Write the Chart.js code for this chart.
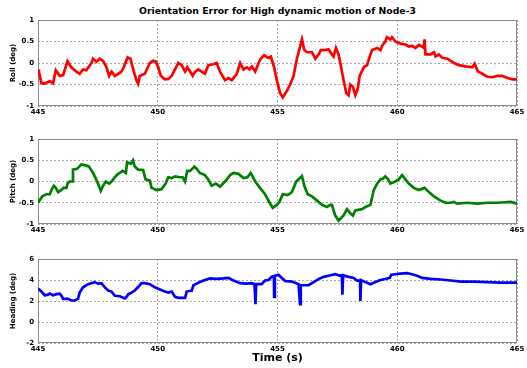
<!DOCTYPE html>
<html>
<head>
<meta charset="utf-8">
<script src="https://cdn.jsdelivr.net/npm/chart.js@4.4.1/dist/chart.umd.min.js"></script>
<style>
  body { margin: 0; background: #fff; }
  #wrap { position: relative; width: 527px; height: 368px; overflow: hidden; font-family: 'DejaVu Sans', sans-serif; }
  canvas { position: absolute; left: 0; }
  #title { position: absolute; top: 5px; left: 38px; width: 479px; text-align: center; font-weight: bold; font-size: 9.3px; color: #000; }
  #xlabel { position: absolute; top: 351px; left: 38px; width: 479px; text-align: center; font-weight: bold; font-size: 11px; color: #000; }
</style>
</head>
<body>
<div id="wrap">
  <div id="title">Orientation Error for High dynamic motion of Node-3</div>
  <canvas id="roll" width="527" height="120" style="top:0px"></canvas>
  <canvas id="pitch" width="527" height="120" style="top:120px"></canvas>
  <canvas id="heading" width="527" height="128" style="top:240px"></canvas>
  <div id="xlabel">Time (s)</div>
</div>
<script>
// roll error (deg) vs time (s)
const rollTime = [445.00, 445.04, 445.14, 445.28, 445.49, 445.63, 445.74, 445.91, 446.05, 446.23, 446.39, 446.60, 446.74, 446.88, 447.02, 447.23, 447.30, 447.44, 447.58, 447.72, 447.86, 447.97, 448.07, 448.21, 448.35, 448.49, 448.58, 448.74, 448.86, 449.00, 449.11, 449.18, 449.25, 449.46, 449.67, 449.81, 449.92, 450.02, 450.13, 450.30, 450.44, 450.58, 450.72, 450.86, 451.00, 451.14, 451.23, 451.35, 451.46, 451.56, 451.69, 451.83, 451.97, 452.11, 452.32, 452.46, 452.60, 452.81, 452.95, 453.09, 453.30, 453.44, 453.58, 453.72, 453.83, 453.93, 454.07, 454.21, 454.30, 454.44, 454.62, 454.72, 454.86, 454.97, 455.11, 455.22, 455.39, 455.53, 455.67, 455.81, 455.95, 456.02, 456.12, 456.23, 456.44, 456.58, 456.72, 456.81, 456.99, 457.13, 457.27, 457.34, 457.44, 457.55, 457.62, 457.76, 457.87, 457.97, 458.04, 458.15, 458.25, 458.35, 458.43, 458.60, 458.74, 458.85, 458.95, 459.16, 459.30, 459.37, 459.50, 459.57, 459.71, 459.78, 459.92, 460.13, 460.34, 460.48, 460.62, 460.76, 460.90, 461.04, 461.11, 461.14, 461.18, 461.39, 461.53, 461.60, 461.74, 461.88, 462.09, 462.23, 462.37, 462.57, 462.85, 463.13, 463.23, 463.37, 463.55, 463.76, 463.97, 464.18, 464.39, 464.60, 464.81, 465.00];
const rollDeg = [-0.15, -0.2, -0.47, -0.48, -0.42, -0.47, -0.17, -0.3, -0.28, 0.04, -0.1, -0.2, -0.25, -0.15, -0.17, 0.0, 0.1, 0.03, 0.1, 0.05, -0.1, -0.3, -0.2, -0.3, -0.25, -0.2, -0.1, 0.13, 0.1, -0.2, -0.4, -0.48, -0.3, -0.25, 0.0, 0.05, 0.03, -0.1, -0.3, -0.38, -0.37, -0.3, -0.15, 0.0, -0.05, -0.2, -0.1, -0.2, -0.3, -0.2, -0.15, -0.2, -0.25, -0.05, -0.03, 0.0, -0.2, -0.4, -0.35, -0.4, -0.25, 0.0, -0.15, -0.1, -0.15, -0.08, -0.2, 0.0, 0.1, 0.18, 0.12, 0.15, -0.1, -0.4, -0.7, -0.8, -0.65, -0.5, -0.3, 0.1, 0.4, 0.55, 0.3, 0.25, 0.25, 0.1, 0.2, 0.3, 0.3, 0.32, 0.2, 0.15, 0.35, 0.2, 0.0, -0.4, -0.7, -0.75, -0.5, -0.55, -0.75, -0.6, -0.3, -0.1, -0.05, 0.15, 0.3, 0.35, 0.3, 0.4, 0.5, 0.6, 0.55, 0.6, 0.5, 0.45, 0.43, 0.38, 0.4, 0.35, 0.42, 0.38, 0.35, 0.55, 0.2, 0.2, 0.25, 0.15, 0.2, 0.12, 0.1, 0.05, 0.0, -0.05, -0.08, -0.1, -0.02, -0.2, -0.25, -0.32, -0.33, -0.3, -0.3, -0.35, -0.38, -0.38];

// pitch error (deg) vs time (s)
const pitchTime = [445.00, 445.18, 445.35, 445.49, 445.56, 445.66, 445.74, 445.84, 445.98, 446.07, 446.19, 446.23, 446.32, 446.42, 446.46, 446.63, 446.72, 446.81, 446.99, 447.13, 447.30, 447.47, 447.62, 447.72, 447.83, 447.97, 448.07, 448.28, 448.53, 448.67, 448.72, 448.88, 448.97, 449.04, 449.18, 449.39, 449.49, 449.67, 449.74, 449.95, 450.16, 450.33, 450.44, 450.58, 450.72, 450.93, 451.04, 451.14, 451.23, 451.35, 451.53, 451.62, 451.76, 451.97, 452.11, 452.25, 452.43, 452.60, 452.81, 453.02, 453.16, 453.37, 453.58, 453.74, 453.88, 454.07, 454.27, 454.48, 454.67, 454.80, 454.97, 455.08, 455.22, 455.42, 455.60, 455.78, 456.02, 456.12, 456.26, 456.44, 456.65, 456.86, 457.06, 457.20, 457.27, 457.41, 457.55, 457.76, 457.90, 458.04, 458.15, 458.25, 458.53, 458.67, 458.88, 459.02, 459.16, 459.30, 459.41, 459.50, 459.62, 459.71, 459.92, 460.06, 460.20, 460.34, 460.48, 460.69, 460.90, 461.14, 461.32, 461.53, 461.81, 462.02, 462.23, 462.37, 462.50, 462.92, 463.34, 463.76, 464.18, 464.74, 465.00];
const pitchDeg = [-0.5, -0.35, -0.3, -0.3, -0.2, -0.1, -0.15, -0.25, -0.2, -0.15, -0.15, -0.05, 0.0, 0.0, 0.28, 0.3, 0.35, 0.4, 0.38, 0.35, 0.2, 0.0, -0.22, -0.1, 0.0, -0.05, 0.0, 0.15, 0.25, 0.2, 0.45, 0.42, 0.5, 0.35, 0.28, 0.27, 0.05, 0.02, -0.15, -0.2, -0.18, -0.05, 0.1, 0.08, 0.12, 0.1, 0.1, 0.0, 0.25, 0.25, 0.35, 0.3, 0.2, 0.15, 0.05, -0.1, -0.05, -0.12, 0.0, 0.15, 0.2, 0.18, 0.08, 0.1, 0.2, 0.0, -0.15, -0.3, -0.5, -0.62, -0.55, -0.48, -0.3, -0.32, -0.25, 0.0, 0.13, -0.1, -0.3, -0.35, -0.45, -0.55, -0.6, -0.55, -0.55, -0.8, -0.92, -0.8, -0.65, -0.75, -0.8, -0.68, -0.65, -0.6, -0.55, -0.2, -0.05, 0.05, 0.07, 0.12, 0.05, -0.05, 0.0, 0.05, 0.15, 0.05, -0.05, -0.15, -0.2, -0.15, -0.25, -0.35, -0.45, -0.5, -0.5, -0.48, -0.52, -0.5, -0.52, -0.5, -0.5, -0.48, -0.52];

// heading error (deg) vs time (s)
const headingTime = [445.00, 445.14, 445.28, 445.42, 445.49, 445.63, 445.77, 445.91, 445.98, 446.05, 446.26, 446.39, 446.53, 446.67, 446.74, 446.88, 447.09, 447.37, 447.51, 447.65, 447.79, 447.93, 448.07, 448.21, 448.42, 448.63, 448.70, 448.77, 448.91, 449.04, 449.23, 449.32, 449.46, 449.67, 449.88, 450.09, 450.30, 450.44, 450.58, 450.72, 450.86, 451.14, 451.21, 451.42, 451.49, 451.76, 451.97, 452.18, 452.46, 452.74, 452.95, 453.16, 453.44, 453.72, 453.93, 454.04, 454.08, 454.11, 454.34, 454.48, 454.62, 454.76, 454.85, 454.86, 454.89, 455.04, 455.18, 455.32, 455.60, 455.88, 455.94, 455.97, 456.30, 456.51, 456.72, 456.93, 457.13, 457.41, 457.62, 457.69, 457.71, 457.74, 457.97, 458.18, 458.32, 458.45, 458.46, 458.49, 458.67, 458.88, 459.09, 459.30, 459.50, 459.69, 459.75, 459.92, 460.13, 460.41, 460.62, 460.83, 461.04, 461.39, 461.81, 462.23, 462.65, 463.20, 463.76, 464.32, 465.00];
const headingDeg = [3.2, 2.9, 2.55, 2.6, 2.7, 2.55, 2.65, 2.7, 2.5, 2.2, 2.2, 2.05, 2.05, 2.2, 2.8, 3.3, 3.6, 3.8, 3.65, 3.7, 3.3, 3.0, 2.9, 2.5, 2.45, 2.25, 2.4, 2.65, 2.8, 3.0, 3.45, 3.7, 3.7, 3.6, 3.3, 3.1, 2.9, 2.8, 2.9, 2.4, 2.3, 2.3, 2.9, 3.0, 3.5, 3.8, 4.0, 4.15, 4.1, 4.15, 4.2, 3.95, 3.7, 3.65, 3.7, 3.6, 1.7, 3.6, 3.6, 3.95, 4.0, 4.3, 4.35, 2.4, 4.4, 4.5, 4.2, 3.9, 3.85, 3.6, 1.7, 3.5, 3.5, 3.8, 4.1, 4.3, 4.4, 4.55, 4.4, 4.45, 2.6, 4.45, 4.3, 4.2, 3.95, 3.95, 2.0, 4.0, 3.8, 3.6, 3.8, 4.0, 4.1, 4.2, 4.5, 4.55, 4.6, 4.65, 4.55, 4.4, 4.2, 4.1, 4.05, 3.95, 3.85, 3.85, 3.8, 3.75, 3.75];

const xTicks = { min: 445, max: 465, step: 5 };

const tickFont = { family: 'DejaVu Sans', size: 7, weight: 'bold' };

// solid grey frame round the plot area
const framePlugin = {
  id: 'frame',
  beforeDatasetsDraw(chart) {
    const { ctx, chartArea: a } = chart;
    ctx.save();
    ctx.strokeStyle = '#8c8c8c';
    ctx.lineWidth = 1;
    ctx.strokeRect(a.left + 0.5, a.top + 0.5, a.right - a.left - 1, a.bottom - a.top - 1);
    ctx.restore();
  }
};

function makePanel(id, times, values, color, yLabel, yMin, yMax, yStep, padTop, xHeight) {
  const ctx = document.getElementById(id).getContext('2d');
  return new Chart(ctx, {
    type: 'line',
    data: {
      datasets: [{
        data: times.map((t, i) => ({ x: t, y: values[i] })),
        borderColor: color,
        borderWidth: 2.7,
        pointRadius: 0,
        tension: 0,
        fill: false,
      }],
    },
    options: {
      responsive: false,
      animation: false,
      devicePixelRatio: 1,
      layout: { padding: { top: padTop, right: 10, left: 0, bottom: 0 } },
      plugins: { legend: { display: false }, tooltip: { enabled: false } },
      scales: {
        x: {
          type: 'linear',
          min: xTicks.min,
          max: xTicks.max,
          afterFit: (s) => { s.height = xHeight; },
          ticks: { stepSize: xTicks.step, font: tickFont, color: '#000', padding: 2, maxRotation: 0,
                   callback: (v) => String(v) },
          grid: { color: '#a8a8a8', lineWidth: 1, drawTicks: false },
          border: { display: false, dash: [2, 2] },
        },
        y: {
          min: yMin,
          max: yMax,
          afterFit: (s) => { s.width = 38; },
          ticks: { stepSize: yStep, font: tickFont, color: '#000', padding: 4,
                   callback: (v) => String(v) },
          grid: { color: '#a8a8a8', lineWidth: 1, drawTicks: false },
          border: { display: false, dash: [2, 2] },
          title: { display: true, text: yLabel, font: tickFont, color: '#000', padding: { top: 9, bottom: 0 } },
        },
      },
    },
    plugins: [framePlugin],
  });
}

makePanel('roll', rollTime, rollDeg, 'rgb(255,0,0)', 'Roll (deg)', -1, 1, 0.5, 20, 14);
makePanel('pitch', pitchTime, pitchDeg, 'rgb(0,128,0)', 'Pitch (deg)', -1, 1, 0.5, 19, 16);
makePanel('heading', headingTime, headingDeg, 'rgb(0,0,255)', 'Heading (deg)', -2, 6, 2, 19, 25);
</script>
</body>
</html>
